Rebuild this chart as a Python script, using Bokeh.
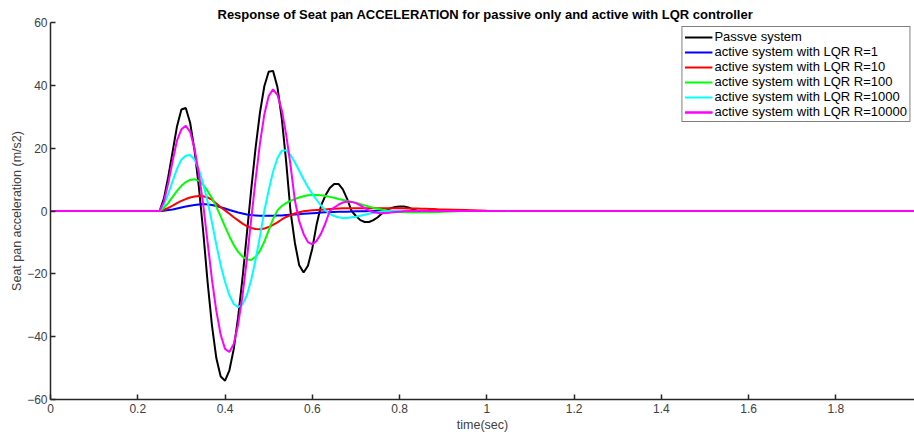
from bokeh.plotting import figure
from bokeh.models import Legend, LegendItem, FixedTicker, Range1d, ColumnDataSource, Title
from bokeh.embed import file_html
from bokeh.resources import INLINE

# ---------------- data ----------------
time_s = [0.0,
          0.25, 0.26, 0.27, 0.28, 0.29, 0.30, 0.31, 0.32, 0.33, 0.34,
          0.35, 0.36, 0.37, 0.38, 0.39, 0.40, 0.41, 0.42, 0.43, 0.44,
          0.45, 0.46, 0.47, 0.48, 0.49, 0.50, 0.51, 0.52, 0.53, 0.54,
          0.55, 0.56, 0.57, 0.58, 0.59, 0.60, 0.61, 0.62, 0.63, 0.64,
          0.65, 0.66, 0.67, 0.68, 0.69, 0.70, 0.71, 0.72, 0.73, 0.74,
          0.75, 0.76, 0.77, 0.78, 0.79, 0.80, 0.81, 0.82, 0.83, 0.84,
          0.85, 0.86, 0.87, 0.88, 0.89, 0.90,
          0.95, 1.00, 1.05]

passive = [0.0,
           0, 4, 11, 19, 27, 32.3, 32.8, 28.1, 19.4, 7.7,
           -6.6, -22.6, -36.4, -46.8, -52.7, -54.0, -50.7, -43.9, -33.8, -21.4,
           -7.3, 6.9, 20.1, 31.3, 39.7, 44.3, 44.6, 39.5, 29.5, 15.8,
           0.0, -10.1, -17.3, -19.6, -17.4, -11.9, -4.2, 1.7, 4.9, 7.3,
           8.6, 8.6, 6.9, 3.8, 0.0, -1.6, -2.9, -3.5, -3.5, -2.9,
           -2.0, -0.7, 0.3, 0.9, 1.3, 1.4, 1.4, 1.1, 0.6, 0.1,
           -0.2, -0.3, -0.3, -0.2, -0.1, 0.0,
           0.0, 0.0, 0.0]

lqr_r1 = [0.0,
          0, 0.1, 0.3, 0.5, 0.8, 1.1, 1.4, 1.7, 1.9, 2.1,
          2.2, 2.1, 1.9, 1.6, 1.2, 0.8, 0.3, -0.1, -0.5, -0.8,
          -1.1, -1.3, -1.4, -1.5, -1.5, -1.5, -1.5, -1.4, -1.4, -1.3,
          -1.2, -1.1, -1.0, -0.9, -0.8, -0.7, -0.6, -0.5, -0.4, -0.35,
          -0.3, -0.25, -0.2, -0.2, -0.15, -0.1, -0.1, -0.05, 0, 0,
          0, 0, 0, 0, 0, 0, 0, 0, 0, 0,
          0, 0, 0, 0, 0, 0,
          0.0, 0.0, 0.0]

lqr_r10 = [0.0,
           0, 0.4, 1.0, 1.7, 2.5, 3.2, 3.8, 4.3, 4.6, 4.8,
           4.7, 4.3, 3.6, 2.4, 1.2, 0.2, -0.9, -2.0, -3.0, -4.0,
           -4.8, -5.4, -5.7, -5.8, -5.6, -5.1, -4.4, -3.6, -2.7, -1.9,
           -1.3, -0.8, -0.4, -0.1, 0.1, 0.2, 0.3, 0.4, 0.5, 0.6,
           0.7, 0.8, 0.85, 0.9, 0.9, 0.9, 0.9, 0.9, 0.9, 0.9,
           0.9, 0.9, 0.9, 0.9, 0.9, 0.9, 0.9, 0.8, 0.8, 0.8,
           0.7, 0.7, 0.6, 0.6, 0.5, 0.5,
           0.3, 0.1, 0.0]

lqr_r100 = [0.0,
            0, 1.0, 2.6, 4.5, 6.4, 8.0, 9.2, 9.9, 10.1, 9.6,
            8.3, 6.4, 4.1, 1.4, -1.7, -5.0, -8.1, -10.8, -13.0, -14.5,
            -15.4, -15.6, -14.6, -12.7, -9.8, -6.2, -2.6, 0.2, 1.6, 2.5,
            3.2, 3.8, 4.3, 4.7, 5.0, 5.1, 5.1, 5.0, 4.8, 4.5,
            4.2, 3.8, 3.5, 3.2, 2.9, 2.6, 2.2, 1.8, 1.4, 1.0,
            0.7, 0.4, 0.2, 0.0, -0.2, -0.3, -0.4, -0.4, -0.4, -0.4,
            -0.4, -0.4, -0.4, -0.4, -0.3, -0.2,
            0.0, 0.0, 0.0]

lqr_r1000 = [0.0,
             0, 2.0, 5.5, 9.5, 13.5, 16.3, 17.6, 17.8, 16.4, 13.2,
             8.6, 3.0, -3.6, -10.7, -17.2, -22.6, -26.8, -29.6, -30.6, -29.7,
             -26.8, -21.9, -15.5, -8.1, 0.0, 6.6, 12.5, 16.8, 19.2, 19.3,
             17.8, 15.5, 12.8, 10.1, 7.6, 5.4, 3.5, 1.7, 0.2, -0.9,
             -1.6, -2.0, -2.2, -2.2, -2.0, -1.8, -1.5, -1.2, -0.9, -0.6,
             -0.4, -0.2, -0.1, 0, 0, 0, 0, 0, 0, 0,
             0, 0, 0, 0, 0, 0,
             0.0, 0.0, 0.0]

lqr_r10000 = [0.0,
              0, 3, 9, 16, 22.5, 26.0, 27.1, 25.2, 19.9, 11.8,
              2.0, -10.0, -21.8, -31.8, -39.4, -43.9, -44.9, -42.3, -36.1, -26.9,
              -15.4, -2.6, 10.0, 21.5, 30.7, 36.6, 38.7, 37.0, 32.1, 24.4,
              14.6, 3.4, -3.3, -7.3, -9.9, -10.6, -9.5, -7.2, -3.9, 0.0,
              1.1, 2.0, 2.7, 3.0, 2.9, 2.5, 1.8, 0.9, 0.1, -0.4,
              -0.6, -0.7, -0.6, -0.5, -0.3, -0.2, -0.1, 0.0, 0.0, 0.0,
              0, 0, 0, 0, 0, 0,
              0.0, 0.0, 0.0]

# the R=10000 run continues (flat) to the right edge of the plot
r10000_tail_time = [1.05, 1.98]
r10000_tail_value = [0.0, 0.0]

series_names = ["Passve system",
                "active system with LQR R=1",
                "active system with LQR R=10",
                "active system with LQR R=100",
                "active system with LQR R=1000",
                "active system with LQR R=10000"]
series_values = [passive, lqr_r1, lqr_r10, lqr_r100, lqr_r1000, lqr_r10000]
series_colors = ["#000000", "#0000ff", "#ff0000", "#00ff00", "#00ffff", "#ff00ff"]

x_ticks = [0, 0.2, 0.4, 0.6, 0.8, 1.0, 1.2, 1.4, 1.6, 1.8]
x_tick_labels = ["0", "0.2", "0.4", "0.6", "0.8", "1", "1.2", "1.4", "1.6", "1.8"]
y_ticks = [-60, -40, -20, 0, 20, 40, 60]

title_text = "Response of Seat pan ACCELERATION for passive only and active with LQR controller"
x_label = "time(sec)"
y_label = "Seat pan acceleration (m/s2)"

# ---------------- figure ----------------
FONT = "Liberation Sans"
AX_COL = "#262626"
TXT_COL = "#404040"

p = figure(width=914, height=434, output_backend="svg", toolbar_location=None,
           x_range=Range1d(0, 1.98), y_range=Range1d(-60, 60),
           min_border_left=50, min_border_right=0, min_border_top=22, min_border_bottom=0)
p.title = Title(text=title_text, align="left", text_font=FONT, text_font_size="13px",
                text_font_style="bold", text_color="#000000", standoff=1, offset=167)

p.grid.visible = False
p.outline_line_color = None
p.background_fill_color = "white"
p.border_fill_color = "white"

for ax in (p.xaxis[0], p.yaxis[0]):
    ax.axis_line_color = AX_COL
    ax.axis_line_width = 1.5
    ax.major_tick_line_color = AX_COL
    ax.major_tick_line_width = 1.5
    ax.major_tick_in = 5
    ax.major_tick_out = 0
    ax.minor_tick_line_color = None
    ax.major_label_text_font = FONT
    ax.major_label_text_font_size = "12px"
    ax.major_label_text_color = TXT_COL
    ax.axis_label_text_font = FONT
    ax.axis_label_text_font_size = "12.5px"
    ax.axis_label_text_font_style = "normal"
    ax.axis_label_text_color = TXT_COL

p.xaxis.ticker = FixedTicker(ticks=x_ticks)
p.xaxis.major_label_overrides = {float(t): lab for t, lab in zip(x_ticks, x_tick_labels)}
p.xaxis.axis_label = x_label
p.xaxis.major_label_standoff = 4
p.xaxis.axis_label_standoff = 2

p.yaxis.ticker = FixedTicker(ticks=y_ticks)
p.yaxis.axis_label = y_label
p.yaxis.major_label_standoff = 3
p.yaxis.axis_label_standoff = 0

items = []
for name, vals, col in zip(series_names, series_values, series_colors):
    src = ColumnDataSource(dict(t=time_s, a=vals))
    r = p.line("t", "a", source=src, line_color=col, line_width=2)
    renderers = [r]
    if name.endswith("R=10000"):
        r2 = p.line(r10000_tail_time, r10000_tail_value, line_color=col, line_width=2)
        renderers.append(r2)
    items.append(LegendItem(label=name, renderers=renderers))

legend = Legend(items=items, location="top_right", margin=4, padding=2, spacing=0,
                border_line_color="#000000", border_line_width=1,
                background_fill_color="white", background_fill_alpha=1.0,
                label_text_font=FONT, label_text_font_size="13px", label_text_color="#000000",
                glyph_width=28, glyph_height=14, label_height=14, label_standoff=2)
p.add_layout(legend)

open("out.html", "w").write(file_html(p, INLINE))
